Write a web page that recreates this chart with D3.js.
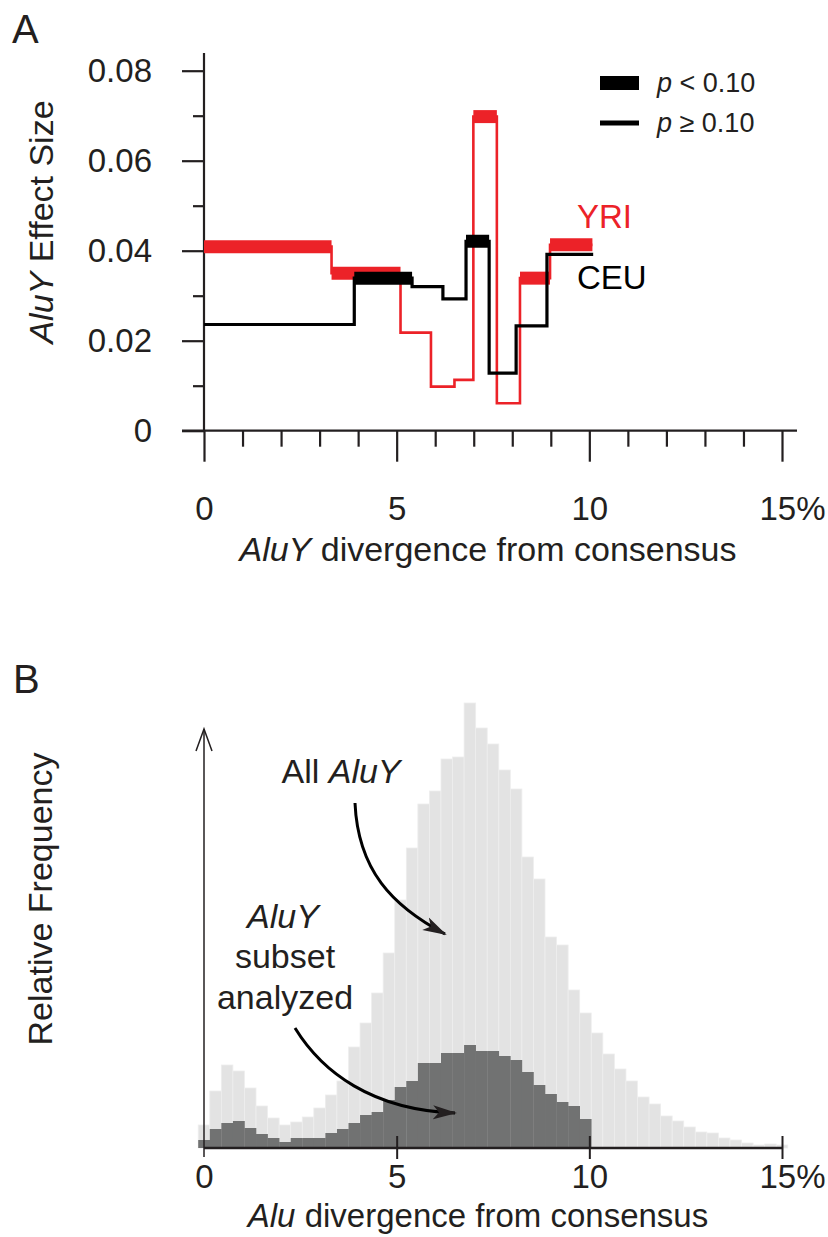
<!DOCTYPE html>
<html>
<head>
<meta charset="utf-8">
<script src="https://cdn.jsdelivr.net/npm/d3@7"></script>
<style>
  body { margin: 0; background: #fff; }
  svg { display: block; font-family: "Liberation Sans", Arial, Helvetica, sans-serif; }
</style>
</head>
<body>
<div id="chart"></div>
<script>
// Panel A: AluY effect size per divergence bin (step functions)
const yriBreaks = [0, 3.31, 5.1, 5.89, 6.5, 6.99, 7.6, 8.2, 8.98, 10.08];
const yriEffect = [0.0409, 0.0350, 0.0218, 0.0098, 0.0113, 0.0698, 0.0061, 0.0339, 0.0413];
const yriSignif = [true, true, false, false, false, true, false, true, true];

const ceuBreaks = [0, 3.9, 5.4, 6.2, 6.8, 7.4, 8.1, 8.9, 10.1];
const ceuEffect = [0.0236, 0.0339, 0.0320, 0.0293, 0.0421, 0.0128, 0.0233, 0.0392];
const ceuSignif = [false, true, false, false, true, false, false, false];

const effectTicks = [0, 0.02, 0.04, 0.06, 0.08];
const effectMinorTicks = [0.01, 0.03, 0.05, 0.07];
const divTicks = [0, 5, 10, 15];
const divMinorTicks = [1, 2, 3, 4, 6, 7, 8, 9, 11, 12, 13, 14];

// Panel B: histogram of divergence (0.3% bins)
const binCenters = [0, 0.3, 0.6, 0.9, 1.2, 1.5, 1.8, 2.1, 2.4, 2.7, 3.0, 3.3, 3.6, 3.9, 4.2, 4.5, 4.8,
  5.1, 5.4, 5.7, 6.0, 6.3, 6.6, 6.9, 7.2, 7.5, 7.8, 8.1, 8.4, 8.7, 9.0, 9.3, 9.6, 9.9, 10.2, 10.5,
  10.8, 11.1, 11.4, 11.7, 12.0, 12.3, 12.6, 12.9, 13.2, 13.5, 13.8, 14.1, 14.4, 14.7, 15.0];
const allAluY = [23, 57, 83, 77, 60, 42, 30, 23, 26, 31, 40, 53, 67, 101, 125, 155, 195,
  248, 300, 344, 357, 389, 391, 445, 420, 404, 378, 359, 291, 269, 211, 203, 158, 135, 115, 94,
  79, 67, 51, 44, 32, 27, 21, 16, 15, 10, 8, 5, 3, 4, 3];
const subsetAluY = [8, 19, 25, 27, 20, 14, 10, 6, 10, 10, 10, 15, 19, 25, 33, 36, 48,
  61, 67, 85, 85, 95, 95, 103, 97, 97, 92, 88, 76, 63, 54, 46, 42, 29];
const binWidth = 0.3;

const W = 828, H = 1237;
const ink = "#231f20";
const red = "#ec2228";
const fs = 33;

const svg = d3.select("#chart").append("svg")
  .attr("width", W).attr("height", H);

svg.append("defs").append("marker")
  .attr("id", "arrow")
  .attr("markerUnits", "userSpaceOnUse")
  .attr("markerWidth", 24).attr("markerHeight", 16)
  .attr("viewBox", "0 0 24 16")
  .attr("refX", 22).attr("refY", 8)
  .attr("orient", "auto")
  .append("path")
  .attr("d", "M0,1 L24,8 L0,15 L6,8 Z")
  .attr("fill", ink);

// shared x scale
const x = d3.scaleLinear().domain([0, 15]).range([204, 782]);

// axis groups: d3 sets font attrs on call, so override afterwards
function styleAxis(g) {
  g.attr("font-size", fs).attr("font-family", null);
  g.select(".domain").remove();
  g.selectAll(".tick line").attr("stroke", ink).attr("stroke-width", 2.2);
  g.selectAll(".tick text").attr("fill", ink);
}

// ---------------- Panel A ----------------
const yA = d3.scaleLinear().domain([0, 0.08]).range([430.7, 70.7]);

svg.append("text").attr("x", 12).attr("y", 43)
  .attr("font-size", 40).attr("fill", ink).text("A");

// y axis
svg.append("g").attr("transform", "translate(204,0)")
  .call(d3.axisLeft(yA).tickValues(effectTicks).tickSize(22).tickPadding(30)
    .tickFormat(d => d === 0 ? "0" : d3.format(".2f")(d)))
  .call(styleAxis);
svg.append("g").attr("transform", "translate(204,0)")
  .call(d3.axisLeft(yA).tickValues(effectMinorTicks).tickSize(11).tickFormat(""))
  .call(styleAxis);

// x axis
const xAxisA = svg.append("g").attr("transform", "translate(0,430.7)")
  .call(d3.axisBottom(x).tickValues(divTicks).tickSize(31).tickPadding(35)
    .tickFormat(d => d === 15 ? "15%" : d))
  .call(styleAxis);
xAxisA.selectAll(".tick text").filter(d => d === 15).attr("dx", 10);
svg.append("g").attr("transform", "translate(0,430.7)")
  .call(d3.axisBottom(x).tickValues(divMinorTicks).tickSize(16).tickFormat(""))
  .call(styleAxis);

svg.append("line").attr("x1", 204).attr("x2", 204).attr("y1", 53).attr("y2", 431)
  .attr("stroke", ink).attr("stroke-width", 2.2);
svg.append("line").attr("x1", 182).attr("x2", 797).attr("y1", 430.7).attr("y2", 430.7)
  .attr("stroke", ink).attr("stroke-width", 2.2);

// axis titles
const yTitleA = svg.append("text").attr("transform", "translate(53,222) rotate(-90)")
  .attr("text-anchor", "middle").attr("font-size", 34).attr("fill", ink);
yTitleA.append("tspan").attr("font-style", "italic").text("AluY");
yTitleA.append("tspan").text(" Effect Size");

const xTitleA = svg.append("text").attr("x", 488).attr("y", 561)
  .attr("text-anchor", "middle").attr("font-size", 34).attr("fill", ink);
xTitleA.append("tspan").attr("font-style", "italic").text("AluY");
xTitleA.append("tspan").text(" divergence from consensus");

// step series
function drawSeries(breaks, effect, signif, color, thin) {
  const pts = breaks.map((b, i) => ({ b, v: effect[Math.min(i, effect.length - 1)] }));
  const line = d3.line().x(d => x(d.b)).y(d => yA(d.v)).curve(d3.curveStepAfter);
  svg.append("path").datum(pts)
    .attr("fill", "none").attr("stroke", color).attr("stroke-width", thin)
    .attr("d", line);
  svg.append("g").selectAll("line")
    .data(effect.map((v, i) => ({ v, i })).filter(d => signif[d.i]))
    .join("line")
    .attr("x1", d => x(breaks[d.i]))
    .attr("x2", d => x(breaks[d.i + 1]))
    .attr("y1", d => yA(d.v))
    .attr("y2", d => yA(d.v))
    .attr("stroke", color).attr("stroke-width", 13);
}
drawSeries(yriBreaks, yriEffect, yriSignif, red, 2.6);
drawSeries(ceuBreaks, ceuEffect, ceuSignif, "#000", 3.2);

svg.append("text").attr("x", 577).attr("y", 228).attr("font-size", fs)
  .attr("fill", red).text("YRI");
svg.append("text").attr("x", 577).attr("y", 289).attr("font-size", fs)
  .attr("fill", "#000").text("CEU");

// legend
const legend = svg.append("g");
legend.append("line").attr("x1", 600).attr("x2", 639).attr("y1", 83).attr("y2", 83)
  .attr("stroke", "#000").attr("stroke-width", 14);
legend.append("line").attr("x1", 600).attr("x2", 639).attr("y1", 123).attr("y2", 123)
  .attr("stroke", "#000").attr("stroke-width", 5);
[["< 0.10", 92], ["\u2265 0.10", 132]].forEach(([t, yy]) => {
  const tx = legend.append("text").attr("x", 657).attr("y", yy)
    .attr("font-size", 27).attr("fill", ink);
  tx.append("tspan").attr("font-style", "italic").text("p");
  tx.append("tspan").text(" " + t);
});

// ---------------- Panel B ----------------
const yB = d3.scaleLinear().domain([0, 460]).range([1148, 688]);

svg.append("text").attr("x", 13).attr("y", 693)
  .attr("font-size", 40).attr("fill", ink).text("B");

svg.append("g").selectAll("rect")
  .data(allAluY.map((v, i) => ({ c: binCenters[i], v })))
  .join("rect")
  .attr("x", d => x(d.c - binWidth / 2))
  .attr("width", d => x(d.c + binWidth / 2) - x(d.c - binWidth / 2))
  .attr("y", d => yB(d.v))
  .attr("height", d => yB(0) - yB(d.v))
  .attr("fill", "#e3e3e3")
  .attr("stroke", "#eeeeee").attr("stroke-width", 0.8);

svg.append("g").selectAll("rect")
  .data(subsetAluY.map((v, i) => ({ c: binCenters[i], v })))
  .join("rect")
  .attr("x", d => x(d.c - binWidth / 2))
  .attr("width", d => x(d.c + binWidth / 2) - x(d.c - binWidth / 2) + 0.3)
  .attr("y", d => yB(d.v))
  .attr("height", d => yB(0) - yB(d.v))
  .attr("fill", "#717272");

// x axis B
const xAxisB = svg.append("g").attr("transform", "translate(0,1148)")
  .call(d3.axisBottom(x).tickValues(divTicks).tickSize(0).tickPadding(17)
    .tickFormat(d => d === 15 ? "15%" : d))
  .call(styleAxis);
xAxisB.selectAll(".tick line").attr("y1", -12).attr("y2", 11).attr("stroke-width", 2);
xAxisB.selectAll(".tick text").filter(d => d === 15).attr("dx", 10);
xAxisB.selectAll(".tick line").filter(d => d === 0).remove();

svg.append("line").attr("x1", 204).attr("x2", 782).attr("y1", 1148).attr("y2", 1148)
  .attr("stroke", ink).attr("stroke-width", 2.4);

// y axis arrow
svg.append("line").attr("x1", 204).attr("x2", 204).attr("y1", 1157).attr("y2", 729)
  .attr("stroke", ink).attr("stroke-width", 1.5);
svg.append("path").attr("d", "M196,751 L204,729 L212,751")
  .attr("fill", "none").attr("stroke", ink).attr("stroke-width", 1.5);

svg.append("text").attr("transform", "translate(52,899) rotate(-90)")
  .attr("text-anchor", "middle").attr("font-size", 34).attr("fill", ink)
  .text("Relative Frequency");

const xTitleB = svg.append("text").attr("x", 478).attr("y", 1227)
  .attr("text-anchor", "middle").attr("font-size", 33).attr("fill", ink);
xTitleB.append("tspan").attr("font-style", "italic").text("Alu");
xTitleB.append("tspan").text(" divergence from consensus");

// annotations
const allLbl = svg.append("text").attr("x", 341).attr("y", 783)
  .attr("text-anchor", "middle").attr("font-size", 34).attr("fill", ink);
allLbl.append("tspan").text("All ");
allLbl.append("tspan").attr("font-style", "italic").text("AluY");

const subLbl = svg.append("text").attr("text-anchor", "middle")
  .attr("font-size", 34).attr("fill", ink);
subLbl.append("tspan").attr("x", 283).attr("y", 928).attr("font-style", "italic").text("AluY");
subLbl.append("tspan").attr("x", 285).attr("y", 968).text("subset");
subLbl.append("tspan").attr("x", 285).attr("y", 1009).text("analyzed");

svg.append("path").attr("d", "M355,803 C358,870 392,906 445,934")
  .attr("fill", "none").attr("stroke", "#000").attr("stroke-width", 3)
  .attr("marker-end", "url(#arrow)");
svg.append("path").attr("d", "M295,1028 C322,1072 372,1110 455,1113")
  .attr("fill", "none").attr("stroke", "#000").attr("stroke-width", 3)
  .attr("marker-end", "url(#arrow)");
</script>
</body>
</html>
